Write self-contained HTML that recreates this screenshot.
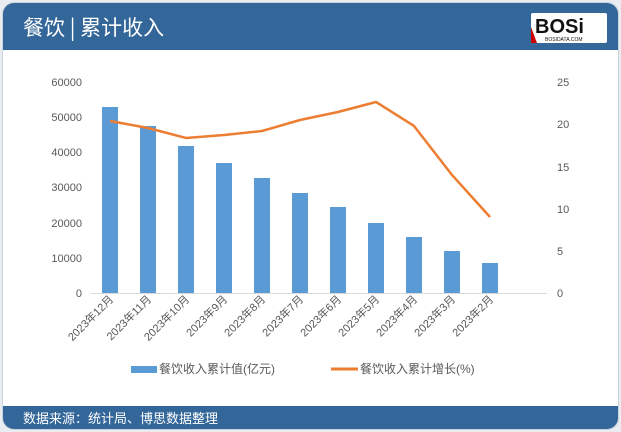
<!DOCTYPE html>
<html><head><meta charset="utf-8"><style>
body{margin:0;width:621px;height:432px;background:#e9edf2;font-family:"Liberation Sans","Noto Sans CJK SC",sans-serif;overflow:hidden}
.card{position:absolute;left:2px;top:2px;width:615px;height:426px;background:#fff;border-radius:12px;overflow:hidden;border:1px solid #c9d3de}
.hd{position:absolute;left:0;top:0;width:615px;height:47px;background:#336699}
.hd .t{position:absolute;left:20px;top:9px;color:#fff;font-size:21px;font-family:"Noto Sans CJK SC",sans-serif}
.logo{position:absolute;left:528px;top:10px;width:76px;height:30px;background:#fff;border-radius:2px}
.ft{position:absolute;left:0;top:403px;width:615px;height:23px;background:#336699;color:#fff;font-size:13px;line-height:23px;padding-left:20px;font-family:"Noto Sans CJK SC",sans-serif}
</style></head><body>
<div class="card">
<div class="hd"><div class="t">餐饮 | 累计收入</div>
<div class="logo"><svg width="76" height="30"><text x="4" y="20" font-family="Liberation Sans" font-weight="bold" font-size="20" fill="#111">BOSi</text><text x="14" y="28" font-size="5" fill="#111" font-family="Liberation Sans">BOSIDATA.COM</text><polygon points="0,14 6,30 0,30" fill="#c00"/></svg></div></div>
<div class="ft">数据来源：统计局、博思数据整理</div>
</div>
<svg width="621" height="432" style="position:absolute;left:0;top:0" font-family="Liberation Sans" font-size="11" fill="#595959">
<g text-anchor="end">
<text x="82" y="297">0</text><text x="82" y="262">10000</text><text x="82" y="227">20000</text><text x="82" y="191">30000</text><text x="82" y="156">40000</text><text x="82" y="121">50000</text><text x="82" y="86">60000</text>
</g>
<g text-anchor="start">
<text x="557" y="297">0</text><text x="557" y="255">5</text><text x="557" y="213">10</text><text x="557" y="171">15</text><text x="557" y="128">20</text><text x="557" y="86">25</text>
</g>
<line x1="91" y1="293.5" x2="547" y2="293.5" stroke="#d9d9d9"/>
<g fill="#5b9bd5">
<rect x="102" y="107" width="16" height="186"/>
<rect x="140" y="126" width="16" height="167"/>
<rect x="178" y="146" width="16" height="147"/>
<rect x="216" y="163" width="16" height="130"/>
<rect x="254" y="178" width="16" height="115"/>
<rect x="292" y="193" width="16" height="100"/>
<rect x="330" y="207" width="16" height="86"/>
<rect x="368" y="223" width="16" height="70"/>
<rect x="406" y="237" width="16" height="56"/>
<rect x="444" y="251" width="16" height="42"/>
<rect x="482" y="263" width="16" height="30"/>
</g>
<polyline fill="none" stroke="#ed7d31" stroke-width="2.5" points="110,121 148,128 186,138 224,135 262,131 300,120 338,112 376,102 414,126 452,175 490,217"/>
<g font-family="Liberation Sans,Noto Sans CJK SC,sans-serif" font-size="11" text-anchor="end">
<text transform="translate(114,300) rotate(-45)">2023年12月</text>
<text transform="translate(152,300) rotate(-45)">2023年11月</text>
<text transform="translate(190,300) rotate(-45)">2023年10月</text>
<text transform="translate(228,300) rotate(-45)">2023年9月</text>
<text transform="translate(266,300) rotate(-45)">2023年8月</text>
<text transform="translate(304,300) rotate(-45)">2023年7月</text>
<text transform="translate(342,300) rotate(-45)">2023年6月</text>
<text transform="translate(380,300) rotate(-45)">2023年5月</text>
<text transform="translate(418,300) rotate(-45)">2023年4月</text>
<text transform="translate(456,300) rotate(-45)">2023年3月</text>
<text transform="translate(494,300) rotate(-45)">2023年2月</text>
</g>
<rect x="131" y="366" width="26" height="7" fill="#5b9bd5"/>
<text x="159" y="373" font-family="Liberation Sans,Noto Sans CJK SC,sans-serif" font-size="12">餐饮收入累计值(亿元)</text>
<line x1="331" y1="369" x2="358" y2="369" stroke="#ed7d31" stroke-width="3"/>
<text x="360" y="373" font-family="Liberation Sans,Noto Sans CJK SC,sans-serif" font-size="12">餐饮收入累计增长(%)</text>
</svg>
</body></html>
